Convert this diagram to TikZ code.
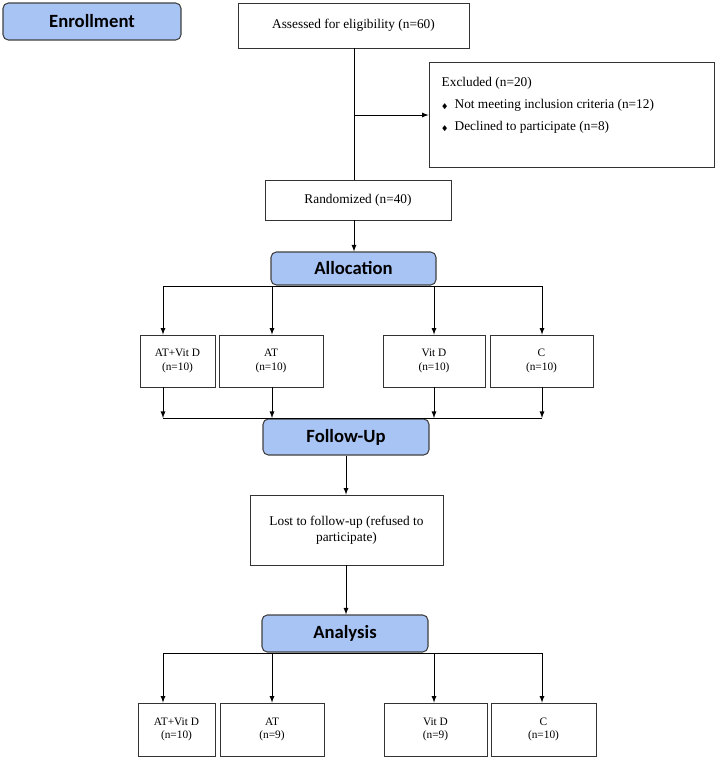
\documentclass[tikz,border=0pt]{standalone}
\usepackage{amssymb}
\usepackage{fontspec}
\setmainfont{Liberation Serif}
\newfontfamily\hdr{Carlito}
\begin{document}
\begin{tikzpicture}[x=0.75pt,y=-0.75pt,
 hd/.style={draw=black!75,fill={rgb,255:red,168;green,196;blue,245},rounded corners=4pt,line width=0.8pt,font=\hdr\bfseries\fontsize{14}{16}\selectfont},
 bx/.style={draw=black!80,line width=0.6pt,font=\fontsize{10}{12}\selectfont,align=center},
 sb/.style={draw=black!80,line width=0.6pt,font=\fontsize{8.5}{10}\selectfont,align=center},
 ar/.style={-latex,line width=0.7pt},
 ln/.style={line width=0.7pt}]
\useasboundingbox (0,0) rectangle (716,757);
\newcommand\bxn[6]{\node[#1,minimum width={(#4-#3)*0.75pt},minimum height={(#6-#5)*0.75pt},inner sep=0pt] (#2) at ({(#3+#4)/2},{(#5+#6)/2}) {};}
\bxn{hd}{enr}{3}{181}{3}{40}\node[font=\hdr\bfseries\fontsize{14}{16}\selectfont] at (enr) {Enrollment};
\bxn{bx}{ass}{238}{469}{3}{48}\node[font=\fontsize{10}{12}\selectfont] at (ass) {Assessed for eligibility (n=60)};
\bxn{bx}{exc}{429}{714}{62}{167}
\node[anchor=west,font=\fontsize{10}{12}\selectfont] at (437,83) {Excluded (n=20)};
\node[anchor=west,font=\fontsize{10}{12}\selectfont] at (437,105) {{\tiny$\blacklozenge$}\ \ Not meeting inclusion criteria (n=12)};
\node[anchor=west,font=\fontsize{10}{12}\selectfont] at (437,127) {{\tiny$\blacklozenge$}\ \ Declined to participate (n=8)};
\bxn{bx}{ran}{265}{451}{180}{220}\node[font=\fontsize{10}{12}\selectfont] at (ran) {Randomized (n=40)};
\bxn{hd}{all}{271}{436}{252}{285}\node[font=\hdr\bfseries\fontsize{14}{16}\selectfont] at (all) {Allocation};
\coordinate (br) at (354,115);
\draw[ln] (ass.south -| br) -- (ran.north -| br);
\draw[ar] (br) -- (br -| exc.west);
\draw[ar] (ran.south -| br) -- (all.north -| br);
% allocation boxes
\bxn{sb}{a1}{140}{215}{335}{387}\node[sb,draw=none] at (a1) {AT+Vit D\\ (n=10)};
\bxn{sb}{a2}{219}{323}{335}{387}\node[sb,draw=none] at (a2) {AT\\(n=10)};
\bxn{sb}{a3}{383}{485}{335}{387}\node[sb,draw=none] at (a3) {Vit D\\(n=10)};
\bxn{sb}{a4}{490}{593}{335}{387}\node[sb,draw=none] at (a4) {C\\ (n=10)};
\bxn{hd}{fol}{263}{429}{419}{455}\node[font=\hdr\bfseries\fontsize{14}{16}\selectfont] at (fol) {Follow-Up};
\draw[ln] (163,286) -- (542,286);
\foreach \n/\x in {a1/163,a2/272,a3/434,a4/542}{
 \coordinate (t) at (\x,286);
 \coordinate (u) at (\x,418);
 \draw[ar] (t) -- (\n.north -| t);
 \draw[ar] (\n.south -| t) -- (u);}
\draw[ln] (163,418) -- (542,418);
\bxn{bx}{lost}{250}{443}{495}{565}\node[bx,draw=none] at (lost) {Lost to follow-up (refused to\\participate)};
\coordinate (mc) at (346,0);
\draw[ar] (fol.south -| mc) -- (lost.north -| mc);
\bxn{hd}{ana}{262}{428}{615}{652}\node[font=\hdr\bfseries\fontsize{14}{16}\selectfont] at (ana) {Analysis};
\draw[ar] (lost.south -| mc) -- (ana.north -| mc);
\draw[ln] (163,653) -- (542,653);
\bxn{sb}{b1}{138}{215}{703}{756}\node[sb,draw=none] at (b1) {AT+Vit D\\(n=10)};
\bxn{sb}{b2}{220}{324}{703}{756}\node[sb,draw=none] at (b2) {AT\\(n=9)};
\bxn{sb}{b3}{384}{487}{703}{756}\node[sb,draw=none] at (b3) {Vit D\\(n=9)};
\bxn{sb}{b4}{491}{596}{703}{756}\node[sb,draw=none] at (b4) {C\\(n=10)};
\foreach \n/\x in {b1/163,b2/272,b3/434,b4/542}{
 \coordinate (t) at (\x,653);
 \draw[ar] (t) -- (\n.north -| t);}
\end{tikzpicture}
\end{document}
